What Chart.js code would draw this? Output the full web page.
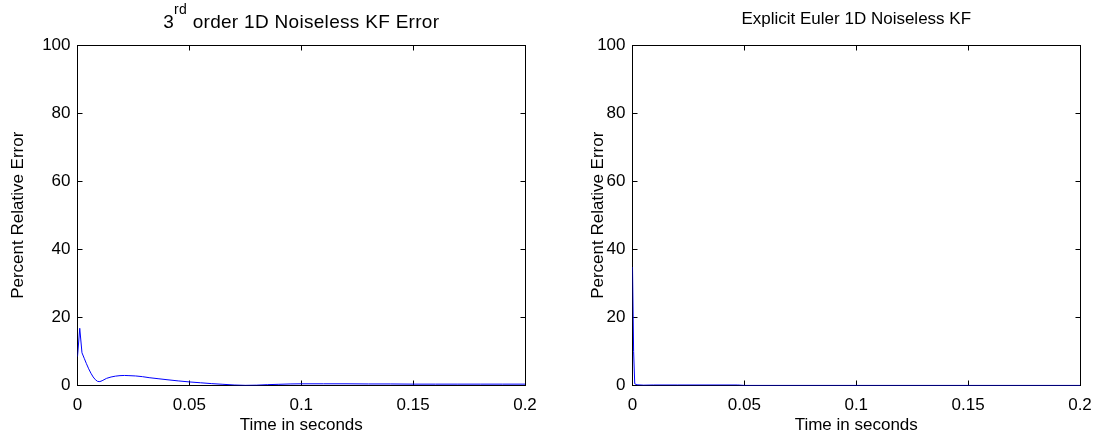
<!DOCTYPE html>
<html>
<head>
<meta charset="utf-8">
<script src="https://cdn.jsdelivr.net/npm/chart.js@4"></script>
<style>
  html, body { margin:0; padding:0; background:#fff; }
  body { width:1103px; height:443px; position:relative; overflow:hidden; }
  .pane { position:absolute; top:0; height:443px; }
  #left { left:0; width:551px; }
  #right { left:551px; width:552px; }
</style>
</head>
<body>
<div class="pane" id="left"><canvas id="kfChart"></canvas></div>
<div class="pane" id="right"><canvas id="eulerChart"></canvas></div>
<script>
// 3rd order KF error (left)
const kfTime = [0, 0.001, 0.002, 0.003, 0.004, 0.005, 0.006, 0.007, 0.008, 0.009, 0.010, 0.011, 0.013,
  0.015, 0.017, 0.019, 0.021, 0.023, 0.026, 0.029, 0.032, 0.036, 0.040, 0.045, 0.050, 0.055, 0.060,
  0.065, 0.070, 0.075, 0.080, 0.085, 0.090, 0.095, 0.100, 0.110, 0.120, 0.130, 0.140, 0.150, 0.160,
  0.170, 0.180, 0.190, 0.200];
const kfError = [8.5, 16.8, 9.6, 8.0, 6.4, 4.9, 3.6, 2.5, 1.7, 1.2, 1.15, 1.4, 2.1,
  2.5, 2.75, 2.9, 2.95, 2.9, 2.8, 2.6, 2.3, 2.0, 1.7, 1.35, 1.05, 0.8, 0.55,
  0.35, 0.15, 0.05, 0.1, 0.25, 0.35, 0.45, 0.5, 0.5, 0.5, 0.45, 0.45, 0.4, 0.4,
  0.4, 0.4, 0.4, 0.4];

// explicit Euler (right)
const eulerTime = [0, 0.0005, 0.001, 0.002, 0.005, 0.0094, 0.02, 0.047, 0.05, 0.1, 0.2];
const eulerError = [34.8, 10, 0.5, 0.2, 0.1, 0.15, 0.15, 0.15, 0.02, 0.02, 0.02];

const xTicks = [0, 0.05, 0.1, 0.15, 0.2];
const yTicks = [0, 20, 40, 60, 80, 100];

const FONT = "'Liberation Sans', Arial, Helvetica, sans-serif";
const FS = 17;

const toPoints = (xs, ys) => xs.map((x, i) => ({ x, y: ys[i] }));
const half = v => Math.floor(v) + 0.5;

// matlab-ish box + inward ticks (under the data), labels + title on top
const boxPlugin = {
  id: "mbox",
  beforeDatasetsDraw(chart) {
    const { ctx, chartArea: a, scales } = chart;
    ctx.save();
    ctx.strokeStyle = "#000";
    ctx.lineWidth = 1;
    const L = half(a.left), R = half(a.right), T = half(a.top), B = half(a.bottom);
    ctx.strokeRect(L, T, R - L, B - T);
    const tl = 5;
    ctx.beginPath();
    xTicks.forEach(v => {
      const px = half(scales.x.getPixelForValue(v));
      ctx.moveTo(px, B); ctx.lineTo(px, B - tl);
      ctx.moveTo(px, T); ctx.lineTo(px, T + tl);
    });
    yTicks.forEach(v => {
      const py = half(scales.y.getPixelForValue(v));
      ctx.moveTo(L, py); ctx.lineTo(L + tl, py);
      ctx.moveTo(R, py); ctx.lineTo(R - tl, py);
    });
    ctx.stroke();
    ctx.restore();
  },
  afterDraw(chart, args, opts) {
    const { ctx, chartArea: a } = chart;
    ctx.save();
    ctx.fillStyle = "#000";
    ctx.font = `${FS}px ${FONT}`;
    ctx.textBaseline = "alphabetic";
    // x label
    ctx.textAlign = "center";
    ctx.fillText("Time in seconds", (a.left + a.right) / 2, 430);
    // y label
    ctx.save();
    ctx.translate(opts.ylabelX, (a.top + a.bottom) / 2);
    ctx.rotate(-Math.PI / 2);
    ctx.fillText("Percent Relative Error", 0, 6);
    ctx.restore();

    // title with optional superscript
    const parts = opts.title;
    ctx.letterSpacing = opts.titleSpacing + "px";
    const fontOf = p => `${p.sup ? 14 : opts.titleSize}px ${FONT}`;
    const widths = parts.map(p => {
      ctx.font = fontOf(p);
      return ctx.measureText(p.text).width;
    });
    let x = (a.left + a.right) / 2 - widths.reduce((s, w) => s + w, 0) / 2;
    ctx.textAlign = "left";
    parts.forEach((p, i) => {
      ctx.font = fontOf(p);
      ctx.fillText(p.text, x, p.sup ? opts.titleY - 14 : opts.titleY);
      x += widths[i];
    });
    ctx.restore();
  }
};

function makeChart(id, xs, ys, yAxisW, padRight, pluginOpts) {
  return new Chart(document.getElementById(id).getContext("2d"), {
    type: "scatter",
    data: { datasets: [{ data: toPoints(xs, ys), showLine: true, borderColor: "#0000ff",
      borderWidth: 1, pointRadius: 0, tension: 0, fill: false }] },
    options: {
      responsive: true, maintainAspectRatio: false, animation: false,
      layout: { padding: { top: 45, right: padRight, left: 0, bottom: 0 } },
      plugins: { legend: { display: false }, tooltip: { enabled: false }, mbox: pluginOpts },
      scales: {
        x: {
          type: "linear", min: 0, max: 0.2,
          afterBuildTicks: s => { s.ticks = xTicks.map(v => ({ value: v })); },
          afterFit: s => { s.height = 57.5; },
          grid: { display: false, drawTicks: false }, border: { display: false },
          ticks: { color: "#000", font: { family: FONT, size: FS }, padding: 10, maxRotation: 0,
            callback: v => String(+Number(v).toFixed(3)) }
        },
        y: {
          min: 0, max: 100,
          afterBuildTicks: s => { s.ticks = yTicks.map(v => ({ value: v })); },
          afterFit: s => { s.width = yAxisW; },
          grid: { display: false, drawTicks: false }, border: { display: false },
          ticks: { color: "#000", font: { family: FONT, size: FS }, padding: 7 }
        }
      }
    },
    plugins: [boxPlugin]
  });
}

makeChart("kfChart", kfTime, kfError, 77.5, 26, {
  ylabelX: 17, titleY: 28, titleSize: 19, titleSpacing: 0.3,
  title: [{ text: "3" }, { text: "rd", sup: true }, { text: " order 1D Noiseless KF Error" }]
});
makeChart("eulerChart", eulerTime, eulerError, 81.5, 23, {
  ylabelX: 46, titleY: 24, titleSize: 17, titleSpacing: 0,
  title: [{ text: "Explicit Euler 1D Noiseless KF" }]
});
</script>
</body>
</html>
